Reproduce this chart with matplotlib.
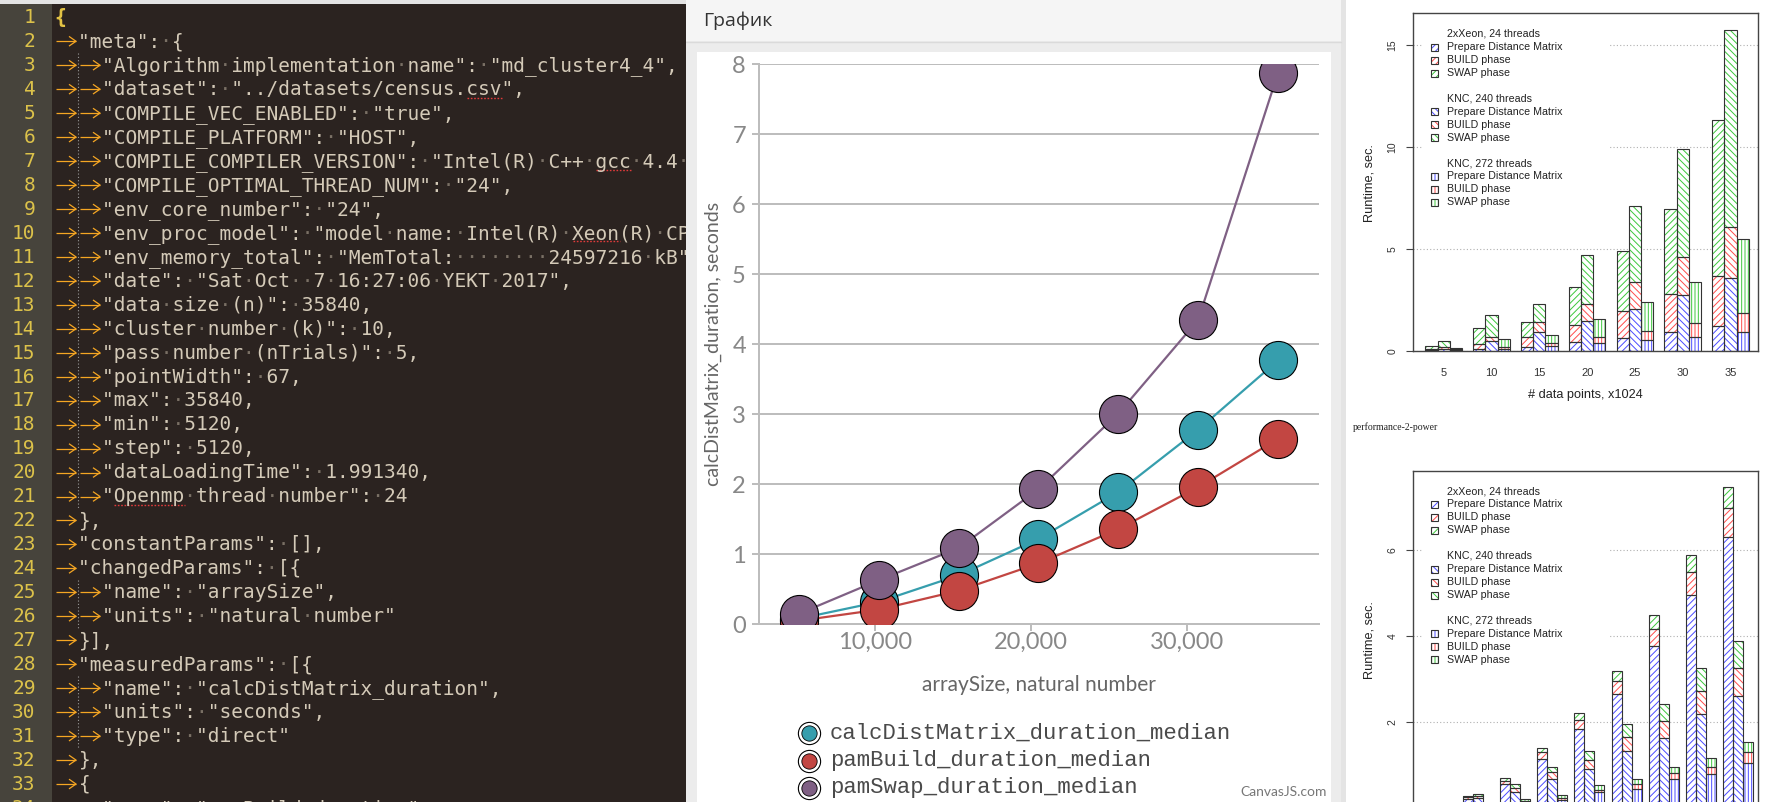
import numpy as np
import matplotlib
matplotlib.use("Agg")
import matplotlib.pyplot as plt
from matplotlib.patches import Rectangle

W, H, DPI = 1779, 802, 100

# ------------------------------------------------------------ line chart data
array_size = [5120, 10240, 15360, 20480, 25600, 30720, 35840]
calc_dist_median = [0.08, 0.32, 0.70, 1.22, 1.89, 2.78, 3.77]
pam_build_median = [0.05, 0.21, 0.48, 0.87, 1.36, 1.96, 2.65]
pam_swap_median = [0.15, 0.63, 1.09, 1.93, 3.01, 4.35, 7.88]
series_names = ["calcDistMatrix_duration_median",
                "pamBuild_duration_median",
                "pamSwap_duration_median"]
series_colors = ["#369EAD", "#C24642", "#7F6084"]
line_yticks = [0, 1, 2, 3, 4, 5, 6, 7, 8]
line_xticks = [10000, 20000, 30000]
line_xlabel = "arraySize, natural number"
line_ylabel = "calcDistMatrix_duration, seconds"
panel_title = "График"

# ------------------------------------------------------------ R bar charts data
top_groups = ["5", "10", "15", "20", "25", "30", "35"]
top_xeon_prep = [0.03, 0.10, 0.20, 0.42, 0.62, 0.92, 1.23]
top_xeon_build = [0.07, 0.23, 0.50, 0.84, 1.34, 1.87, 2.45]
top_xeon_swap = [0.16, 0.78, 0.72, 1.89, 2.93, 4.19, 7.63]
top_knc240_prep = [0.12, 0.50, 0.92, 1.47, 2.06, 2.76, 3.56]
top_knc240_build = [0.09, 0.20, 0.49, 0.83, 1.31, 1.86, 2.53]
top_knc240_swap = [0.29, 1.06, 0.91, 2.39, 3.72, 5.30, 9.66]
top_knc272_prep = [0.05, 0.10, 0.26, 0.38, 0.54, 0.70, 0.93]
top_knc272_build = [0.05, 0.11, 0.15, 0.29, 0.46, 0.69, 0.92]
top_knc272_swap = [0.04, 0.36, 0.37, 0.91, 1.42, 2.01, 3.66]
top_yticks = [0, 5, 10, 15]

bot_xeon_prep = [0.22, 0.56, 1.15, 1.84, 2.66, 3.76, 4.96, 6.29]
bot_xeon_build = [0.04, 0.08, 0.15, 0.21, 0.30, 0.41, 0.54, 0.68]
bot_xeon_swap = [0.03, 0.06, 0.10, 0.16, 0.22, 0.31, 0.39, 0.50]
bot_knc240_prep = [0.24, 0.39, 0.68, 0.91, 1.34, 1.63, 2.19, 2.60]
bot_knc240_build = [0.05, 0.08, 0.16, 0.22, 0.31, 0.41, 0.54, 0.65]
bot_knc240_swap = [0.04, 0.09, 0.13, 0.20, 0.30, 0.39, 0.52, 0.64]
bot_knc272_prep = [0.06, 0.15, 0.20, 0.38, 0.45, 0.68, 0.79, 1.06]
bot_knc272_build = [0.02, 0.03, 0.05, 0.05, 0.11, 0.14, 0.18, 0.25]
bot_knc272_swap = [0.02, 0.03, 0.06, 0.11, 0.12, 0.15, 0.21, 0.24]
bot_yticks = [0, 2, 4, 6]

r_machine_titles = ["2xXeon, 24 threads", "KNC, 240 threads", "KNC, 272 threads"]
r_phase_names = ["Prepare Distance Matrix", "BUILD phase", "SWAP phase"]
r_phase_colors = ["#4B4BFF", "#FF4B4B", "#3CC83C"]
r_hatches = ["/////", "\\\\\\\\\\", "|||||"]
r_xlabel = "# data points, x1024"
r_ylabel = "Runtime, sec."
r_caption = "performance-2-power"

# ------------------------------------------------------------ editor text
editor_lines = [
    (0, "{"),
    (1, '"meta": {'),
    (2, '"Algorithm implementation name": "md_cluster4_4",'),
    (2, '"dataset": "../datasets/census.csv",'),
    (2, '"COMPILE_VEC_ENABLED": "true",'),
    (2, '"COMPILE_PLATFORM": "HOST",'),
    (2, '"COMPILE_COMPILER_VERSION": "Intel(R) C++ gcc 4.4 mode",'),
    (2, '"COMPILE_OPTIMAL_THREAD_NUM": "24",'),
    (2, '"env_core_number": "24",'),
    (2, '"env_proc_model": "model name: Intel(R) Xeon(R) CPU",'),
    (2, '"env_memory_total": "MemTotal:        24597216 kB",'),
    (2, '"date": "Sat Oct  7 16:27:06 YEKT 2017",'),
    (2, '"data size (n)": 35840,'),
    (2, '"cluster number (k)": 10,'),
    (2, '"pass number (nTrials)": 5,'),
    (2, '"pointWidth": 67,'),
    (2, '"max": 35840,'),
    (2, '"min": 5120,'),
    (2, '"step": 5120,'),
    (2, '"dataLoadingTime": 1.991340,'),
    (2, '"Openmp thread number": 24'),
    (1, '},'),
    (1, '"constantParams": [],'),
    (1, '"changedParams": [{'),
    (2, '"name": "arraySize",'),
    (2, '"units": "natural number"'),
    (1, '}],'),
    (1, '"measuredParams": [{'),
    (2, '"name": "calcDistMatrix_duration",'),
    (2, '"units": "seconds",'),
    (2, '"type": "direct"'),
    (1, '},'),
    (1, '{'),
    (2, '"name": "pamBuild_duration",'),
]
spell_marks = [(4, "csv"), (7, "gcc"), (10, "Xeon"), (21, "Openmp")]
indent_guides = [(3, 21), (25, 26), (29, 31)]

plt.rcParams["hatch.linewidth"] = 0.7


def rect(x0, y0, x1, y1):
    return [x0 / W, 1 - y1 / H, (x1 - x0) / W, (y1 - y0) / H]


def pixel_axes(r, z):
    a = fig.add_axes(r, zorder=z)
    a.set_xlim(r[0] * W, (r[0] + r[2]) * W)
    a.set_ylim(H * (1 - r[1]), H * (1 - r[1] - r[3]))
    a.set_autoscale_on(False)
    a.axis("off")
    return a


fig = plt.figure(figsize=(W / DPI, H / DPI), dpi=DPI, facecolor="white")
bg = pixel_axes([0, 0, 1, 1], 0)
ov = pixel_axes([0, 0, 1, 1], 30)

# ------------------------------------------------------------ panels
bg.add_patch(Rectangle((686, 0), 657, H, color="#ECECEC", lw=0))
bg.add_patch(Rectangle((686, 0), 655, 41, color="#F5F5F5", lw=0))
bg.plot([686, 1341], [41.5, 41.5], color="#DADADA", lw=1)
bg.add_patch(Rectangle((697, 52), 634, H - 52, color="white", lw=0))
bg.add_patch(Rectangle((1341, 0), 5, H, color="#E4E4E4", lw=0))
bg.text(703, 21, panel_title, family="Open Sans", fontsize=14,
        color="#333333", va="center", ha="left")

# ------------------------------------------------------------ editor
ed = pixel_axes(rect(0, 0, 686, H), 2)
ed.add_patch(Rectangle((0, 0), 686, H, color="#2B2320", lw=0))
ed.add_patch(Rectangle((0, 0), 52, H, color="#47443C", lw=0))
ed.add_patch(Rectangle((0, 0), 686, 4, color="#E4E4E4", lw=0))
CW = 11.75
TAB = 24.0
X0 = 54.5
FS = 14.05
mono = "DejaVu Sans Mono"
for i, (lvl, content) in enumerate(editor_lines):
    yc = 17.3 + i * 23.96
    yb = yc + 5.8
    ed.text(35.5, yb, str(i + 1), ha="right", va="baseline", family=mono,
            fontsize=FS, color="#DCC24A", clip_on=True)
    xs = X0 + lvl * TAB
    if i == 0:
        ed.text(xs, yb, content, ha="left", va="baseline", family=mono,
                fontsize=FS, color="#E2C244", fontweight="bold", clip_on=True)
    else:
        ed.text(xs, yb, content, ha="left", va="baseline", family=mono,
                fontsize=FS, color="#D4CAB8", clip_on=True)
        dots = "".join("·" if ch == " " else " " for ch in content)
        if dots.strip():
            ed.text(xs, yb, dots, ha="left", va="baseline", family=mono,
                    fontsize=FS, color="#7A7065", clip_on=True)
    for k in range(lvl):
        ax0 = 56 + k * TAB
        ed.plot([ax0, ax0 + 20], [yc, yc], color="#F5A623", lw=0.9,
                solid_capstyle="butt")
        ed.plot([ax0 + 13.5, ax0 + 20, ax0 + 13.5], [yc - 4.5, yc, yc + 4.5],
                color="#F5A623", lw=0.9)
for (ln, word) in spell_marks:
    lvl, content = editor_lines[ln - 1]
    j = content.find(word)
    xs = X0 + lvl * TAB + j * CW
    yb = 17.3 + (ln - 1) * 23.96 + 8.5
    ed.plot([xs, xs + len(word) * CW], [yb, yb], color="#E03A3A", lw=1.0,
            ls=(0, (1.2, 1.2)))
for (a, b) in indent_guides:
    ed.plot([78.3, 78.3], [17.3 + (a - 1) * 23.96 - 12, 17.3 + (b - 1) * 23.96 + 12],
            color="#9A9A9A", lw=0.8, ls=(0, (1, 2)))

# ------------------------------------------------------------ CanvasJS line chart
lx0, lx1, ly0, ly1 = 758.7, 1319.0, 64.3, 624.3
axl = fig.add_axes(rect(lx0, ly0, lx1, ly1), zorder=5)
axl.set_xlim(2545, 38462)
axl.set_ylim(0, 8)
GRID = "#BDBDBD"
all_series = [calc_dist_median, pam_build_median, pam_swap_median]
for vals, c in zip(all_series, series_colors):
    axl.plot(array_size, vals, color=c, lw=1.6, zorder=2)
for vals, c in zip(all_series, series_colors):
    axl.plot(array_size, vals, ls="none", marker="o", ms=27.4, mfc=c,
             mec="black", mew=0.8, zorder=3)
axl.set_yticks(line_yticks)
axl.set_yticklabels([str(v) for v in line_yticks])
axl.set_xticks(line_xticks)
axl.set_xticklabels([f"{v:,}" for v in line_xticks])
axl.yaxis.grid(True, color=GRID, lw=1.44)
axl.set_axisbelow(True)
for s in ["top", "right"]:
    axl.spines[s].set_visible(False)
for s in ["left", "bottom"]:
    axl.spines[s].set_color(GRID)
    axl.spines[s].set_linewidth(1.44)
axl.tick_params(axis="both", colors=GRID, width=1.44, length=4.7,
                labelcolor="#888888", labelsize=17)
axl.tick_params(axis="y", pad=4.5)
axl.tick_params(axis="x", pad=1)
for lab in axl.get_xticklabels() + axl.get_yticklabels():
    lab.set_family("Lato")
ov.text(1039, 685, line_xlabel, family="Lato", fontsize=15, color="#666666",
        ha="center", va="center")
ov.text(713, 344, line_ylabel, family="Lato", fontsize=14, color="#666666",
        ha="center", va="center", rotation=90)
for k, (name, c) in enumerate(zip(series_names, series_colors)):
    yy = 733 + k * 27.5
    ov.plot([809], [yy], marker="o", ms=16, mfc="white", mec="black", mew=0.8,
            clip_on=False)
    ov.plot([809], [yy], marker="o", ms=11, mfc=c, mec="black", mew=0.6,
            clip_on=False)
    ov.text(830, yy, name, family="Liberation Mono", fontsize=16,
            color="#4A4A4A", ha="left", va="center")
ov.text(1327, 792, "CanvasJS.com", family="Lato", fontsize=10, color="#777777",
        ha="right", va="center")


# ------------------------------------------------------------ R bar charts
def r_chart(box, groups_n, machines, bw, xlim, ylim, yticks, xlabels):
    ax = fig.add_axes(rect(*box), zorder=5)
    x = np.arange(groups_n)
    for j, segs in enumerate(machines):
        xp = x + (j - 1) * bw
        bottom = np.zeros(groups_n)
        for k, seg in enumerate(segs):
            seg = np.asarray(seg)
            ax.bar(xp, seg, bw, bottom=bottom, color="white",
                   edgecolor=r_phase_colors[k], hatch=r_hatches[j], lw=0,
                   zorder=2)
            ax.bar(xp, seg, bw, bottom=bottom, fill=False,
                   edgecolor="#333333", lw=0.8, zorder=3)
            bottom = bottom + seg
    ax.set_xlim(*xlim)
    ax.set_ylim(*ylim)
    ax.set_yticks(yticks)
    ax.set_yticklabels([str(v) for v in yticks], rotation=90, va="center")
    ax.yaxis.grid(True, color="#B0B0B0", lw=0.8, ls=(0, (1, 2)))
    ax.set_axisbelow(True)
    if xlabels is not None:
        ax.set_xticks(x)
        ax.set_xticklabels(xlabels)
    else:
        ax.set_xticks([])
    ax.tick_params(axis="x", length=0, pad=12, labelsize=8, labelcolor="#333333")
    ax.tick_params(axis="y", length=4.8, width=0.8, color="#444444", pad=6,
                   labelsize=7.5, labelcolor="#333333")
    for lab in ax.get_xticklabels() + ax.get_yticklabels():
        lab.set_family("Liberation Sans")
    for s in ax.spines.values():
        s.set_color("#444444")
        s.set_linewidth(1.0)
    return ax


def r_legend(top):
    ov.add_patch(Rectangle((1422, top + 6), 188, 192, color="white", lw=0))
    for m in range(3):
        ty = top + 20.4 + m * 64.65
        ov.text(1447.3, ty, r_machine_titles[m], family="Liberation Sans",
                fontsize=7.7, color="#222222", ha="left", va="center")
        for k in range(3):
            ry = ty + 13.3 + k * 13.0
            ov.add_patch(Rectangle((1430.5, ry - 3.5), 7, 7, facecolor="white",
                                   edgecolor=r_phase_colors[k],
                                   hatch=r_hatches[m], lw=0))
            ov.add_patch(Rectangle((1430.5, ry - 3.5), 7, 7, fill=False,
                                   edgecolor="#333333", lw=0.8))
            ov.text(1447.3, ry, r_phase_names[k], family="Liberation Sans",
                    fontsize=7.7, color="#222222", ha="left", va="center")


top_machines = [
    [top_xeon_prep, top_xeon_build, top_xeon_swap],
    [top_knc240_prep, top_knc240_build, top_knc240_swap],
    [top_knc272_prep, top_knc272_build, top_knc272_swap],
]
bot_machines = [
    [bot_xeon_prep, bot_xeon_build, bot_xeon_swap],
    [bot_knc240_prep, bot_knc240_build, bot_knc240_swap],
    [bot_knc272_prep, bot_knc272_build, bot_knc272_swap],
]
r_chart((1412.7, 13.3, 1758.3, 351.0), len(top_groups), top_machines,
        0.255, (-0.65, 6.58), (0, 16.55), top_yticks, top_groups)
r_legend(13.3)
ov.text(1585.5, 395, r_xlabel, family="Liberation Sans", fontsize=9.2,
        color="#222222", ha="center", va="center")
ov.text(1370, 183, r_ylabel, family="Liberation Sans", fontsize=9.2,
        color="#222222", ha="center", va="center", rotation=90)

ov.text(1353, 427, r_caption, family="Liberation Serif", fontsize=7,
        color="#222222", ha="left", va="center")
n_bot = len(bot_xeon_prep)
r_chart((1412.7, 470.7, 1758.3, 808.5), n_bot, bot_machines,
        0.269, (-1.746, n_bot - 1 + 0.54), (0, 7.84), bot_yticks, None)
r_legend(470.7)
ov.text(1370, 640, r_ylabel, family="Liberation Sans", fontsize=9.2,
        color="#222222", ha="center", va="center", rotation=90)

fig.savefig("out.png", dpi=DPI, facecolor="white")
